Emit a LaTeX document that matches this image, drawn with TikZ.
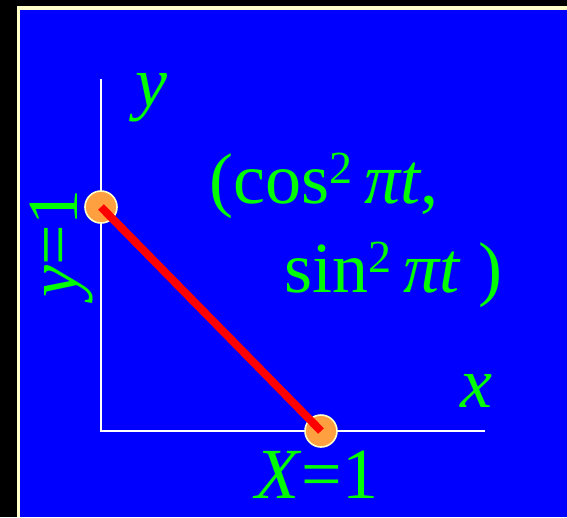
\documentclass[tikz,border=0pt]{standalone}
\usepackage{fontspec}
\setmainfont{Liberation Serif}
\usetikzlibrary{positioning}
\definecolor{slideblue}{RGB}{0,0,255}
\definecolor{labelgreen}{RGB}{0,255,0}
\definecolor{dotorange}{RGB}{255,160,64}
\definecolor{framecream}{RGB}{255,255,200}
\tikzset{
    axis/.style={draw=white,line width=1.8pt},
    dot/.style={circle,fill=dotorange,draw=framecream,line width=1.6pt,
        minimum size=32pt,inner sep=0pt},
    lbl/.style={text=labelgreen,inner sep=0pt,anchor=base west,
        font=\fontsize{72}{80}\selectfont}
}
\newcommand{\sqtwo}{\raisebox{20pt}{\fontsize{46}{46}\selectfont 2}}

\begin{document}
\begin{tikzpicture}[x=1pt,y=-1pt]

\fill[black] (0,0) rectangle (567,517);
\useasboundingbox (0,0) rectangle (567,517);
\fill[framecream] (17,6) rectangle (567,517);
\fill[slideblue] (20,10) rectangle (567,517);

\coordinate (O) at (101,431);
\coordinate (ytop) at (101,79);
\coordinate (xend) at (485,431);
\draw[axis] (ytop) -- (O) -- (xend);

\node[dot] (A) at (101,207) {};
\node[dot] (B) at (321,431) {};
\draw[red,line width=8pt] (A.center) -- (B.center);

\node[lbl] (ylab) at (135,106) {\textit{y}};
\node[lbl] (xlab) at (460,407) {\textit{x}};
\node[lbl] (Xlab) at (255,498) {\textit{X}=1};
\node[lbl,rotate=90] (yone) at (77,298) {\textit{y}=1};

\node[lbl] (cosl) at (209,203) {(cos\sqtwo\,\textit{πt},};
\node[lbl] (sinl) at (284,292) {sin\sqtwo\,\textit{πt}\hspace{18pt})};

\end{tikzpicture}
\end{document}
